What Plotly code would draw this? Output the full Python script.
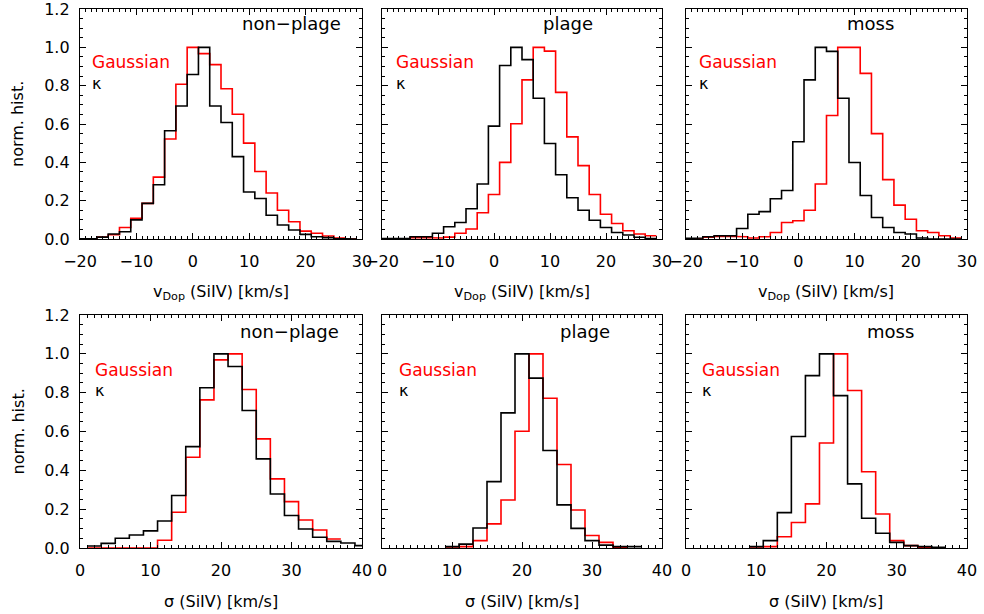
import plotly.graph_objects as go

# ---------------- data ----------------
v_centers = list(range(-20, 30, 2))          # v_Dop bin centres (km/s), 2 km/s bins
s_centers_np = list(range(2, 42, 2))          # sigma bin centres, non-plage
s_centers_pl = list(range(10, 38, 2))         # sigma bin centres, plage / moss

vdop_nonplage_kappa = [0.0, 0.003, 0.01, 0.026, 0.038, 0.1, 0.186, 0.283, 0.565, 0.694, 0.858, 1.0, 0.694,
                       0.608, 0.43, 0.245, 0.211, 0.124, 0.073, 0.047, 0.024, 0.012, 0.007, 0.002, 0.0]
vdop_nonplage_gauss = [0.0, 0.003, 0.01, 0.022, 0.06, 0.108, 0.186, 0.323, 0.522, 0.807, 1.0, 0.967, 0.91,
                       0.784, 0.651, 0.5, 0.352, 0.24, 0.15, 0.09, 0.041, 0.03, 0.016, 0.005, 0.0]

vdop_plage_kappa = [0.002, 0.002, 0.003, 0.012, 0.012, 0.03, 0.064, 0.086, 0.158, 0.287, 0.589, 0.905, 1.0,
                    0.936, 0.734, 0.498, 0.335, 0.215, 0.15, 0.098, 0.06, 0.034, 0.021, 0.009, 0.003]
vdop_plage_gauss = [0.0, 0.0, 0.0, 0.008, 0.008, 0.005, 0.01, 0.03, 0.052, 0.137, 0.232, 0.4, 0.601,
                    0.83, 1.0, 0.98, 0.765, 0.533, 0.383, 0.232, 0.129, 0.081, 0.043, 0.026, 0.017]

vdop_moss_kappa = [0.003, 0.005, 0.012, 0.017, 0.017, 0.055, 0.129, 0.143, 0.21, 0.253, 0.507, 0.83, 1.0,
                   0.979, 0.734, 0.399, 0.227, 0.112, 0.06, 0.034, 0.026, 0.005, 0.0, 0.0, 0.0]
vdop_moss_gauss = [0.0, 0.003, 0.009, 0.014, 0.014, 0.012, 0.005, 0.012, 0.034, 0.086, 0.095, 0.15, 0.287,
                   0.644, 1.0, 1.0, 0.864, 0.55, 0.31, 0.177, 0.103, 0.043, 0.034, 0.017, 0.005]

sig_nonplage_kappa = [0.01, 0.024, 0.05, 0.067, 0.088, 0.139, 0.27, 0.522, 0.825, 1.0, 0.935, 0.708, 0.459,
                      0.278, 0.167, 0.098, 0.055, 0.034, 0.026, 0.012]
sig_nonplage_gauss = [0.0, 0.0, 0.0, 0.0, 0.0, 0.04, 0.184, 0.467, 0.763, 0.969, 1.0, 0.816, 0.562,
                      0.356, 0.239, 0.144, 0.093, 0.046, None, None]

sig_plage_kappa = [0.007, 0.02, 0.103, 0.342, 0.696, 1.0, 0.875, 0.502, 0.222, 0.101, 0.038, 0.015, 0.007, 0.007]
sig_plage_gauss = [0.0, 0.007, 0.038, 0.124, 0.247, 0.601, 1.0, 0.771, 0.43, 0.196, 0.064, 0.029, 0.003, None]

sig_moss_kappa = [0.007, 0.038, 0.182, 0.574, 0.888, 1.0, 0.785, 0.33, 0.153, 0.076, 0.029, 0.012, 0.007, 0.003]
sig_moss_gauss = [0.0, 0.007, 0.058, 0.131, 0.227, 0.541, 1.0, 0.811, 0.393, 0.175, 0.038, 0.012, 0.002, 0.0]

region_names = ["non\u2212plage", "plage", "moss"]
x_titles = ["v<sub>Dop</sub> (SiIV) [km/s]", "\u03c3 (SiIV) [km/s]"]
y_title = "norm. hist."

panels = [
    (v_centers, vdop_nonplage_kappa, vdop_nonplage_gauss),
    (v_centers, vdop_plage_kappa, vdop_plage_gauss),
    (v_centers, vdop_moss_kappa, vdop_moss_gauss),
    (s_centers_np, sig_nonplage_kappa, sig_nonplage_gauss),
    (s_centers_pl, sig_plage_kappa, sig_plage_gauss),
    (s_centers_pl, sig_moss_kappa, sig_moss_gauss),
]

# ---------------- layout geometry ----------------
W, H = 984, 614
col_px = [(80, 362), (382, 662), (686, 967)]
row_px = [(9, 239), (315, 548)]
FONT = "DejaVu Sans"
BLACK = "#000000"
RED = "#ff0000"


def steps(centers, vals, half=1.0):
    xs, ys = [], []
    for c, v in zip(centers, vals):
        if v is None:
            xs.append(None)
            ys.append(None)
            continue
        xs += [c - half, c + half]
        ys += [v, v]
    return xs, ys


fig = go.Figure()
layout = dict(width=W, height=H, margin=dict(l=0, r=0, t=0, b=0, autoexpand=False),
              paper_bgcolor="white", plot_bgcolor="white", showlegend=False,
              font=dict(family=FONT, size=16, color=BLACK))
annotations = []

for i, (cent, kap, gau) in enumerate(panels):
    r, c = divmod(i, 3)
    ax = "" if i == 0 else str(i + 1)
    xd = [col_px[c][0] / W, col_px[c][1] / W]
    yd = [1 - row_px[r][1] / H, 1 - row_px[r][0] / H]

    for vals, col in ((gau, RED), (kap, BLACK)):
        xs, ys = steps(cent, vals)
        fig.add_trace(go.Scatter(x=xs, y=ys, mode="lines", line=dict(color=col, width=1.6),
                                 xaxis="x" + ax, yaxis="y" + ax, hoverinfo="skip"))

    if r == 0:
        xr, dt = [-20, 30], 10
    else:
        xr, dt = [0, 40], 10
    layout["xaxis" + ax] = dict(
        domain=xd, range=xr, anchor="y" + ax, dtick=dt, tick0=0, automargin=False,
        showgrid=False, zeroline=False, showline=True, linecolor=BLACK, linewidth=1.4,
        mirror="ticks", ticks="inside", ticklen=6, tickwidth=1.2, tickcolor=BLACK,
        minor=dict(dtick=1, ticks="inside", ticklen=3, tickwidth=1, tickcolor=BLACK),
        tickfont=dict(family=FONT, size=16, color=BLACK), ticklabelstandoff=8,
        ticklabeloverflow="allow",
    )
    layout["yaxis" + ax] = dict(
        domain=yd, range=[0, 1.2], anchor="x" + ax, dtick=0.2, tick0=0, tickformat=".1f",
        automargin=False,
        showgrid=False, zeroline=False, showline=True, linecolor=BLACK, linewidth=1.4,
        mirror="ticks", ticks="inside", ticklen=6, tickwidth=1.2, tickcolor=BLACK,
        minor=dict(dtick=0.05, ticks="inside", ticklen=3, tickwidth=1, tickcolor=BLACK),
        showticklabels=(c == 0), ticklabeloverflow="allow",
        tickfont=dict(family=FONT, size=16, color=BLACK), ticklabelstandoff=6,
    )

    # region label
    xmid_px = [291, 568, 870][c] if r == 0 else [289, 585, 890][c]
    ymid_px = [23, 331][r]
    annotations.append(dict(text=region_names[c], x=xmid_px / W, y=1 - ymid_px / H,
                            xref="paper", yref="paper", showarrow=False, xanchor="center",
                            yanchor="middle", font=dict(family=FONT, size=18, color=BLACK)))
    gx_px = [90, 394, 697][c] if r == 0 else [93, 397, 700][c]
    gy_px = [62, 370][r]
    ky_px = [83, 391][r]
    annotations.append(dict(text="Gaussian", x=gx_px / W, y=1 - gy_px / H, xref="paper", yref="paper",
                            showarrow=False, xanchor="left", yanchor="middle",
                            font=dict(family=FONT, size=17, color=RED)))
    annotations.append(dict(text="\u03ba", x=gx_px / W, y=1 - ky_px / H, xref="paper", yref="paper",
                            showarrow=False, xanchor="left", yanchor="middle",
                            font=dict(family=FONT, size=16, color=BLACK)))
    # x-axis title
    xt_y = [292, 601][r]
    annotations.append(dict(text=x_titles[r], x=(xd[0] + xd[1]) / 2, y=1 - xt_y / H,
                            xref="paper", yref="paper", showarrow=False, xanchor="center",
                            yanchor="middle", font=dict(family=FONT, size=16, color=BLACK)))
    if c == 0:
        annotations.append(dict(text=y_title, x=18 / W, y=(yd[0] + yd[1]) / 2, xref="paper",
                                yref="paper", showarrow=False, textangle=-90, xanchor="center",
                                yanchor="middle", font=dict(family=FONT, size=16, color=BLACK)))

layout["annotations"] = annotations
fig.update_layout(**layout)
fig.write_html("out.html")
